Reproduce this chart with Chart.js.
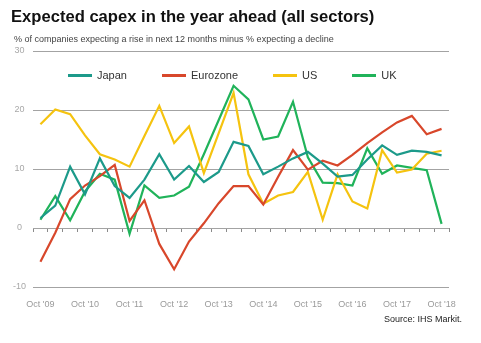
<!DOCTYPE html>
<html>
<head>
<meta charset="utf-8">
<script src="https://cdn.jsdelivr.net/npm/chart.js@4/dist/chart.umd.min.js"></script>
<style>
  html, body { margin: 0; padding: 0; background: #fff; }
  body { width: 481px; height: 343px; position: relative; overflow: hidden; font-family: "Liberation Sans", Arial, sans-serif; }
  #wrap { position: absolute; left: 0; top: 0; width: 481px; height: 343px; }
  .title { position: absolute; left: 11px; top: 7px; font-size: 16.6px; font-weight: bold; color: #111; white-space: nowrap; }
  .sub { position: absolute; left: 14px; top: 34px; font-size: 9px; color: #444; white-space: nowrap; }
  .source { position: absolute; right: 19px; top: 314px; font-size: 9px; color: #222; white-space: nowrap; }
  #legend { position: absolute; left: 68px; top: 69px; display: flex; gap: 35px; font-size: 11px; color: #333; }
  #legend .item { display: flex; align-items: center; }
  #legend .swatch { width: 24px; height: 3px; margin-right: 5px; }
</style>
</head>
<body>
<div id="wrap"><canvas id="capexChart" width="481" height="343"></canvas></div>
<div class="title">Expected capex in the year ahead (all sectors)</div>
<div class="sub">% of companies expecting a rise in next 12 months minus % expecting a decline</div>
<div id="legend"></div>
<div class="source">Source: IHS Markit.</div>
<script>
// survey months: Feb, Jun, Oct
const categories = [
  "Oct '09", "Feb '10", "Jun '10", "Oct '10", "Feb '11", "Jun '11", "Oct '11",
  "Feb '12", "Jun '12", "Oct '12", "Feb '13", "Jun '13", "Oct '13",
  "Feb '14", "Jun '14", "Oct '14", "Feb '15", "Jun '15", "Oct '15",
  "Feb '16", "Jun '16", "Oct '16", "Feb '17", "Jun '17", "Oct '17",
  "Feb '18", "Jun '18", "Oct '18"
];
const tickLabels = ["Oct '09", "Oct '10", "Oct '11", "Oct '12", "Oct '13", "Oct '14", "Oct '15", "Oct '16", "Oct '17", "Oct '18"];
const yTicks = [-10, 0, 10, 20, 30];

const seriesNames = ['Japan', 'Eurozone', 'US', 'UK'];
const seriesColors = ['#1c9a8a', '#d8472b', '#f5c30f', '#20b35a'];

const japan = [1.7, 3.8, 10.4, 5.7, 11.8, 7.1, 5.1, 8.2, 12.5, 8.2, 10.5, 7.8, 9.5, 14.6,
  13.9, 9.1, 10.4, 11.8, 12.9, 10.9, 8.7, 9.0, 11.6, 14.0, 12.4, 13.1, 12.9, 12.3];
const eurozone = [-5.7, -0.8, 4.9, 7.2, 8.8, 10.7, 1.2, 4.7, -2.7, -7.0, -2.3, 0.8, 4.2, 7.1,
  7.1, 4.0, 8.7, 13.2, 9.9, 11.4, 10.6, 12.4, 14.4, 16.2, 17.9, 19.0, 15.9, 16.8];
const us = [17.6, 20.1, 19.3, 15.7, 12.5, 11.6, 10.4, 15.6, 20.7, 14.4, 17.2, 9.3, 16.1, 22.9,
  9.1, 4.1, 5.5, 6.1, 9.5, 1.4, 9.1, 4.5, 3.3, 13.2, 9.4, 9.9, 12.6, 13.1];
const uk = [1.4, 5.4, 1.3, 6.2, 9.2, 8.2, -1.0, 7.2, 5.1, 5.5, 7.0, 12.5, 18.3, 24.1,
  21.8, 15.0, 15.5, 21.4, 12.0, 7.7, 7.6, 7.2, 13.5, 9.2, 10.6, 10.2, 9.8, 0.7];

const seriesData = [japan, eurozone, us, uk];

document.addEventListener('DOMContentLoaded', function() {
    // Legend sits inside the plot, so build it by hand
    const legendEl = document.getElementById('legend');
    seriesNames.forEach(function(name, i) {
        const item = document.createElement('div');
        item.className = 'item';
        item.innerHTML = '<span class="swatch" style="background:' + seriesColors[i] + '"></span>' + name;
        legendEl.appendChild(item);
    });

    const ctx = document.getElementById('capexChart').getContext('2d');
    const gridColor = '#a3a3a3';

    new Chart(ctx, {
        type: 'line',
        data: {
            labels: categories,
            datasets: seriesNames.map(function(name, i) {
                return {
                    label: name,
                    data: seriesData[i],
                    borderColor: seriesColors[i],
                    backgroundColor: seriesColors[i],
                    borderWidth: 2.2,
                    pointRadius: 0,
                    tension: 0,
                    fill: false
                };
            })
        },
        options: {
            responsive: false,
            animation: false,
            layout: { padding: { left: 0, right: 32, top: 51, bottom: 36 } },
            plugins: {
                legend: { display: false },
                tooltip: { enabled: false }
            },
            scales: {
                x: {
                    offset: true,
                    grid: { display: false },
                    border: { display: false },
                    ticks: {
                        autoSkip: false,
                        maxRotation: 0,
                        padding: 4,
                        color: '#9a9a9a',
                        font: { family: 'Liberation Sans', size: 9 },
                        callback: function(value) {
                            const lbl = this.getLabelForValue(value);
                            return tickLabels.includes(lbl) ? lbl : '';
                        }
                    },
                    afterFit: function(axis) { axis.height = 20; }
                },
                xZero: {
                    type: 'category',
                    position: { y: 0 },
                    offset: true,
                    grid: {
                        offset: true,
                        drawOnChartArea: false,
                        drawTicks: true,
                        tickLength: 4,
                        color: '#8a8a8a'
                    },
                    border: { display: false },
                    ticks: { display: false }
                },
                y: {
                    min: -10,
                    max: 30,
                    afterBuildTicks: function(axis) {
                        axis.ticks = yTicks.map(function(v) { return { value: v }; });
                    },
                    grid: { color: gridColor, lineWidth: 1, drawTicks: false },
                    border: { display: false },
                    ticks: {
                        padding: 7,
                        crossAlign: 'center',
                        color: '#a8a8a8',
                        font: { family: 'Liberation Sans', size: 9 }
                    },
                    afterFit: function(axis) { axis.width = 33; }
                }
            }
        }
    });
});
</script>
</body>
</html>
